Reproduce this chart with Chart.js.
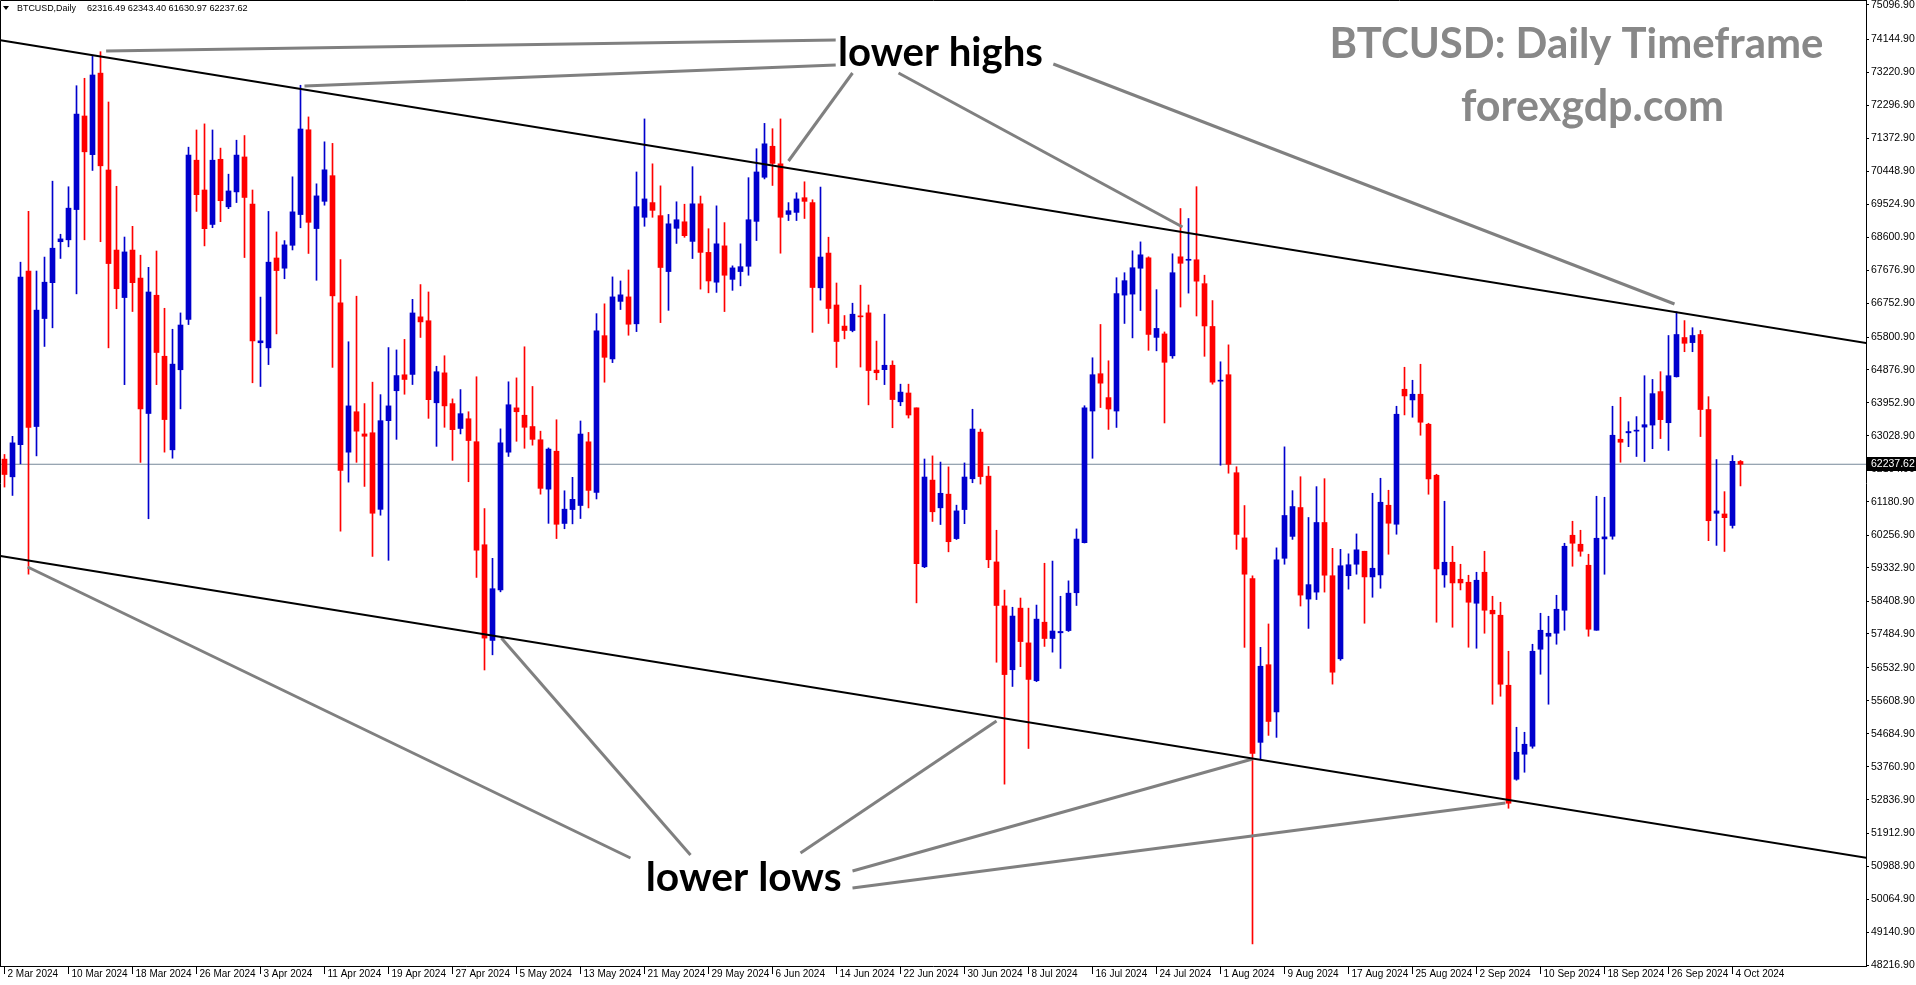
<!DOCTYPE html>
<html>
<head>
<meta charset="utf-8">
<title>BTCUSD Daily</title>
<script src="https://cdn.jsdelivr.net/npm/chart.js@4.4.1/dist/chart.umd.min.js"></script>
<style>
  html, body { margin: 0; padding: 0; background: #fff; overflow: hidden; }
  canvas { display: block; }
</style>
</head>
<body>
<canvas id="chart" width="1916" height="985"></canvas>
<script>
/* ============================================================
   BTCUSD daily candles, 2 Mar - 5 Oct 2024 (one bar a day),
   MT4 look: blue bull / red bear candles, channel lines and
   the "lower highs / lower lows" markup.
   ============================================================ */

const headerLabel = 'BTCUSD,Daily';
const lastOHLC = [62316.49, 62343.40, 61630.97, 62237.62];
const lastPrice = 62237.62;

// one label every 8 bars, starting at bar 0 (2 Mar)
const dateTicks = [
  '2 Mar 2024', '10 Mar 2024', '18 Mar 2024', '26 Mar 2024', '3 Apr 2024', '11 Apr 2024', '19 Apr 2024',
  '27 Apr 2024', '5 May 2024', '13 May 2024', '21 May 2024', '29 May 2024', '6 Jun 2024', '14 Jun 2024',
  '22 Jun 2024', '30 Jun 2024', '8 Jul 2024', '16 Jul 2024', '24 Jul 2024', '1 Aug 2024', '9 Aug 2024',
  '17 Aug 2024', '25 Aug 2024', '2 Sep 2024', '10 Sep 2024', '18 Sep 2024', '26 Sep 2024', '4 Oct 2024'
];

const priceTicks = [
  75096.90, 74144.90, 73220.90, 72296.90, 71372.90, 70448.90, 69524.90, 68600.90, 67676.90, 66752.90,
  65800.90, 64876.90, 63952.90, 63028.90, 62104.90, 61180.90, 60256.90, 59332.90, 58408.90, 57484.90,
  56532.90, 55608.90, 54684.90, 53760.90, 52836.90, 51912.90, 50988.90, 50064.90, 49140.90, 48216.90
];

const opens = [
  62381, 61886, 62785, 67648, 63294, 66318, 67322, 68469, 68522, 69369,
  71989, 70907, 73189, 70477, 68235, 66905, 68235, 67453, 63659, 66970,
  65262, 62642, 64884, 66292, 70751, 69917, 68952, 70777, 69447, 69864,
  70842, 69525, 65640, 65497, 68013, 67727, 68369, 69229, 71603, 68837,
  69600, 70318, 66757, 62576, 63708, 63087, 63120, 60975, 63458, 64296,
  64743, 64753, 66365, 66256, 63959, 64797, 63936, 63240, 63512, 62869,
  59984, 57305, 58721, 62576, 63817, 63610, 63294, 62924, 61541, 62603,
  60580, 60969, 61083, 62866, 61449, 65838, 65187, 66798, 66924, 66170,
  69153, 69564, 69199, 67633, 68844, 69027, 68478, 69530, 68170, 67335,
  68353, 67415, 67633, 67781, 69039, 70273, 71142, 70650, 69233, 69290,
  69701, 69564, 67178, 68151, 66697, 66106, 65983, 66389, 66476, 64874,
  64886, 65010, 63987, 64233, 63815, 59367, 61794, 61018, 61400, 60156,
  60969, 61831, 63137, 61905, 59503, 58271, 56484, 58209, 57236, 56176,
  57815, 57359, 57519, 57581, 58640, 60045, 63728, 64773, 64104, 63728,
  66974, 67002, 67726, 68018, 65790, 65887, 65274, 68046, 67949, 67963,
  67294, 66096, 64564, 64745, 62001, 60176, 59034, 54451, 56625, 55300,
  59605, 60218, 61026, 58463, 58658, 60607, 59117, 56791, 59117, 59438,
  59802, 59083, 59139, 61090, 60558, 64338, 64039, 64198, 63358, 61930,
  59139, 59494, 59018, 58934, 58346, 59214, 58150, 58010, 56050, 53418,
  54118, 54342, 57058, 57422, 57506, 58150, 60250, 59998, 59410, 57590,
  60147, 60222, 62938, 63118, 63165, 63278, 63335, 64272, 63401, 64688,
  65786, 65644, 65871, 63770, 60865, 60846, 60524, 62316.49
];

const highs = [
  62512, 63020, 67896, 69317, 67648, 68039, 70164, 68678, 70008, 72837,
  73045, 73658, 73789, 72381, 70021, 68600, 68900, 68091, 67752, 68209,
  66605, 66018, 66475, 71116, 71598, 71768, 71598, 71090, 70360, 71311,
  71442, 69917, 66918, 69317, 68743, 68500, 70286, 72850, 71963, 70090,
  71266, 71222, 67966, 65668, 66943, 63937, 64536, 64187, 65505, 65439,
  65734, 66855, 67269, 67062, 64982, 65276, 64068, 64329, 63708, 64688,
  60997, 59603, 63229, 64547, 64656, 65527, 64416, 63164, 62695, 63484,
  61495, 61872, 63449, 63129, 66455, 66730, 67484, 67370, 67678, 70422,
  71907, 70650, 70033, 69233, 69587, 69519, 70570, 69747, 68833, 69473,
  69004, 67793, 68410, 70262, 71073, 71782, 71633, 71907, 69564, 69839,
  70147, 69644, 69999, 68595, 67313, 66402, 66747, 67252, 66697, 65687,
  66439, 65133, 64480, 64480, 63815, 62385, 62472, 62299, 62164, 61092,
  62275, 63778, 63223, 62176, 60390, 58714, 58234, 58492, 58209, 58295,
  59466, 59527, 58542, 58973, 60427, 63876, 65219, 66152, 65135, 67461,
  67601, 68214, 68464, 68046, 67127, 65943, 68130, 69398, 69119, 70010,
  67531, 66821, 65107, 65581, 62168, 61082, 59117, 57111, 57766, 59897,
  62725, 61499, 61889, 60747, 61611, 61834, 59883, 59855, 59730, 60287,
  59802, 61426, 61846, 61510, 63862, 64954, 64590, 65038, 63386, 61958,
  61202, 59942, 59438, 59130, 59214, 59802, 58542, 58374, 57002, 54874,
  54734, 57198, 58066, 57982, 58570, 60026, 60642, 60390, 59718, 61342,
  61314, 63862, 64114, 63430, 63572, 64717, 64613, 64830, 65843, 66506,
  66260, 66061, 65985, 64130, 62370, 61471, 62483, 62343.40
];

const lows = [
  61599, 61364, 62251, 59161, 62472, 65536, 66058, 68000, 68326, 67009,
  68522, 70464, 68469, 65497, 66592, 64467, 66514, 62290, 60712, 64467,
  62577, 62407, 63789, 66149, 69317, 68352, 68861, 69030, 69395, 69565,
  68026, 64519, 64415, 65028, 65888, 67432, 68238, 68859, 68140, 67389,
  69491, 64950, 60365, 61737, 62292, 61617, 59657, 60811, 59548, 62935,
  64198, 64470, 65788, 63523, 62739, 63273, 62347, 63087, 61748, 59069,
  56477, 56902, 58666, 62456, 62881, 62685, 62772, 61400, 60583, 60157,
  60432, 60569, 60718, 61015, 61266, 64535, 65084, 66570, 65850, 65952,
  68901, 69153, 66204, 66547, 68421, 68593, 67998, 67141, 67038, 67050,
  66513, 67107, 67233, 67530, 68501, 70227, 70044, 68147, 69061, 69061,
  69119, 65930, 66833, 66180, 64948, 65749, 65946, 64960, 63901, 64603,
  64468, 63260, 63876, 63531, 58357, 59342, 60636, 60550, 59786, 60131,
  60574, 61720, 61683, 59342, 56694, 53281, 56016, 56570, 54279, 56151,
  57137, 56977, 56521, 57556, 58283, 60033, 62405, 63826, 63213, 63268,
  66180, 65776, 66542, 65428, 65414, 63394, 65204, 66639, 67030, 66389,
  65260, 64480, 62210, 61987, 59856, 57111, 48809, 53963, 54646, 54590,
  59438, 60134, 58268, 57641, 58449, 58658, 56081, 56749, 58741, 59159,
  57786, 58514, 58766, 59718, 60278, 63619, 63554, 63050, 61398, 57814,
  58794, 57674, 58719, 57114, 57086, 57506, 55518, 55742, 52606, 53390,
  53614, 54286, 56358, 55518, 57198, 57590, 59382, 59662, 57422, 57590,
  59158, 60138, 62294, 62730, 62455, 62313, 62673, 62957, 62625, 64679,
  65389, 65389, 63013, 60098, 59966, 59796, 60449, 61630.97
];

const closes = [
  61951, 62837, 67479, 63268, 66553, 67335, 68287, 68548, 69408, 72042,
  70986, 73137, 70594, 67857, 67153, 68183, 67322, 63789, 67061, 65367,
  63489, 65041, 66136, 70894, 69786, 68834, 70751, 69617, 69890, 70894,
  69708, 65693, 65693, 67896, 67661, 68380, 69305, 71625, 69012, 69752,
  70482, 66953, 62064, 63872, 63164, 63022, 60866, 63458, 63872, 64721,
  64612, 66474, 66224, 64046, 64829, 63872, 63207, 63654, 62902, 59831,
  57370, 58753, 62837, 63904, 63708, 63273, 62935, 61563, 62662, 60557,
  60980, 61255, 63084, 61506, 65975, 65232, 66924, 66981, 66158, 69450,
  69667, 69347, 67747, 68970, 69084, 68638, 69530, 68170, 67370, 68410,
  67530, 67736, 67770, 69084, 70422, 71210, 70662, 69153, 69336, 69667,
  69599, 67187, 68040, 66599, 65675, 65983, 66439, 66365, 64862, 64800,
  65010, 64049, 64258, 63617, 59453, 61880, 60907, 61425, 60069, 60932,
  61880, 63223, 61893, 59564, 58283, 56349, 57987, 57273, 56213, 57901,
  57359, 57568, 57556, 58628, 60143, 63815, 64745, 64508, 63784, 67016,
  67378, 67740, 68102, 65873, 66041, 65093, 67601, 67865, 67977, 67364,
  66110, 64536, 64592, 62237, 60273, 59159, 54144, 56582, 55036, 59563,
  60803, 61054, 58574, 58867, 60607, 59131, 56415, 59396, 59424, 59842,
  59083, 59326, 61174, 60586, 63638, 64151, 64198, 63414, 61827, 59307,
  59494, 58915, 58915, 58374, 58990, 58150, 58048, 56078, 52746, 54174,
  54398, 57002, 57590, 57506, 58178, 59942, 60026, 59802, 57618, 60166,
  60204, 63050, 62854, 63155, 63184, 63345, 64215, 63487, 64717, 65871,
  65625, 65843, 63770, 60657, 60931, 60742, 62320, 62237.62
];

// drawn objects, as [bar index, price] end points
const upperChannel = [[-0.5, 74110], [232.75, 65630]];
const lowerChannel = [[-0.5, 59669], [232.75, 51219]];
const highPointers = [
  [[12.7, 73809], [103.9, 74117]],
  [[37.5, 72829], [103.9, 73417]],
  [[106, 73193], [98, 70729]],
  [[111.75, 73193], [147.25, 68881]],
  [[131.1, 73445], [208.75, 66725]]
];
const lowPointers = [
  [[2.9, 59361], [78.25, 51213]],
  [[62.1, 57373], [85.75, 51297]],
  [[99.5, 51353], [124, 55049]],
  [[106, 50849], [156, 53985]],
  [[106, 50373], [187.6, 52753]]
];

/* ---- look ---- */
const BULL = '#0000cd', BEAR = '#ff0000';
const X_FONT = { family: 'Liberation Sans, Arial, sans-serif', size: 10 };
const Y_FONT = { family: 'Liberation Sans, Arial, sans-serif', size: 10.5 };
const X_MIN = -0.5625, X_MAX = X_MIN + 1866 / 8;     // 8 px per bar
const Y_MIN = 48188.9, Y_MAX = 75236.9;              // 28 per px

const bars = opens.map((_, i) => i);
const candleColor = bars.map(i => closes[i] >= opens[i] ? BULL : BEAR);

function segment(pts, color, width) {
  return {
    type: 'line', data: pts.map(p => ({ x: p[0], y: p[1] })),
    borderColor: color, borderWidth: width, pointRadius: 0, fill: false, order: 1
  };
}

/* ---- overlay texts, all placed through the scales ---- */
const notes = [
  { text: 'lower highs', at: [117, 73740], width: 205, color: '#000', family: 'Lato' },
  { text: 'lower lows', at: [92.4, 50670], width: 196, color: '#000', family: 'Lato' },
  { text: 'BTCUSD: Daily Timeframe', at: [196.5, 73990], width: 494, color: '#888', family: 'Lato' },
  { text: 'forexgdp.com', at: [198.5, 72250], width: 263, color: '#888', family: 'Lato' }
];

function fitFont(ctx, text, width, weight, family) {
  ctx.font = `${weight} 40px ${family}`;
  const s = 40 * width / ctx.measureText(text).width;
  return `${weight} ${s.toFixed(2)}px ${family}`;
}

const mt4Decor = {
  id: 'mt4Decor',
  beforeDraw(chart) {
    const c = chart.ctx;
    c.save();
    c.fillStyle = '#fff';
    c.fillRect(0, 0, chart.width, chart.height);
    c.restore();
  },
  afterDraw(chart) {
    const c = chart.ctx, xs = chart.scales.x, ys = chart.scales.y, a = chart.chartArea;
    c.save();

    // frame (left + top)
    c.strokeStyle = '#000'; c.lineWidth = 1;
    c.beginPath();
    c.moveTo(0.5, a.bottom); c.lineTo(0.5, 0.5); c.lineTo(a.right, 0.5);
    c.stroke();

    // markup texts
    c.textAlign = 'center'; c.textBaseline = 'middle';
    notes.forEach(n => {
      c.font = fitFont(c, n.text, n.width, 'bold', n.family);
      c.fillStyle = n.color;
      c.fillText(n.text, xs.getPixelForValue(n.at[0]), ys.getPixelForValue(n.at[1]));
    });

    // header: triangle + symbol + OHLC
    c.fillStyle = '#000';
    c.beginPath(); c.moveTo(3, 6); c.lineTo(9, 6); c.lineTo(6, 10); c.closePath(); c.fill();
    c.textAlign = 'left';
    const fam = 'Liberation Sans, Arial, sans-serif';
    c.font = fitFont(c, headerLabel, 59, 'normal', fam);
    c.fillText(headerLabel, 17, 8.5);
    const ohlc = lastOHLC.map(v => v.toFixed(2)).join(' ');
    c.font = fitFont(c, ohlc, 161, 'normal', fam);
    c.fillText(ohlc, 87, 8.5);

    // current price tag on the price axis
    const py = Math.round(ys.getPixelForValue(lastPrice));
    c.fillStyle = '#000';
    c.fillRect(a.right, py - 7, 50, 14);
    c.fillStyle = '#fff';
    c.font = `${Y_FONT.size}px ${Y_FONT.family}`;
    c.fillText(lastPrice.toFixed(2), a.right + 5, py + 0.5);
    c.restore();
  }
};

new Chart(document.getElementById('chart'), {
  type: 'bar',
  data: {
    datasets: [
      {
        type: 'line', order: 4,
        data: [{ x: X_MIN, y: lastPrice }, { x: X_MAX, y: lastPrice }],
        borderColor: '#778899', borderWidth: 1, pointRadius: 0, fill: false
      },
      {
        order: 3, grouped: false, barThickness: 1, minBarLength: 1,
        data: bars.map(i => ({ x: i, y: [lows[i], highs[i]] })),
        backgroundColor: candleColor, borderWidth: 0
      },
      {
        order: 2, grouped: false, barThickness: 5, minBarLength: 1,
        data: bars.map(i => ({ x: i, y: [opens[i], closes[i]] })),
        backgroundColor: candleColor, borderWidth: 0
      },
      segment(upperChannel, '#000', 2),
      segment(lowerChannel, '#000', 2),
      ...highPointers.map(p => segment(p, '#808080', 3)),
      ...lowPointers.map(p => segment(p, '#808080', 3))
    ]
  },
  options: {
    responsive: false,
    devicePixelRatio: 1,
    animation: false,
    events: [],
    layout: { padding: 0 },
    plugins: { legend: { display: false }, tooltip: { enabled: false } },
    scales: {
      x: {
        type: 'linear', position: 'bottom', min: X_MIN, max: X_MAX, offset: false,
        afterBuildTicks: s => { s.ticks = dateTicks.map((_, k) => ({ value: k * 8 })); },
        afterFit: s => { s.height = 19; s.paddingLeft = 0; s.paddingRight = 0; },
        ticks: {
          callback: (v, k) => dateTicks[k], autoSkip: false, maxRotation: 0,
          align: 'start', padding: -6, labelOffset: 3, color: '#000', font: X_FONT
        },
        grid: { offset: false, drawOnChartArea: false, drawTicks: true, tickLength: 8, color: '#000' },
        border: { display: true, color: '#000', width: 1 }
      },
      y: {
        type: 'linear', position: 'right', min: Y_MIN, max: Y_MAX,
        afterBuildTicks: s => { s.ticks = priceTicks.map(v => ({ value: v })); },
        afterFit: s => { s.width = 50; s.paddingTop = 0; s.paddingBottom = 0; },
        ticks: { callback: v => v.toFixed(2), autoSkip: false, padding: 2, color: '#000', font: Y_FONT },
        grid: { drawOnChartArea: false, drawTicks: true, tickLength: 3, color: '#000' },
        border: { display: true, color: '#000', width: 1 }
      }
    }
  },
  plugins: [mt4Decor]
});
</script>
</body>
</html>
